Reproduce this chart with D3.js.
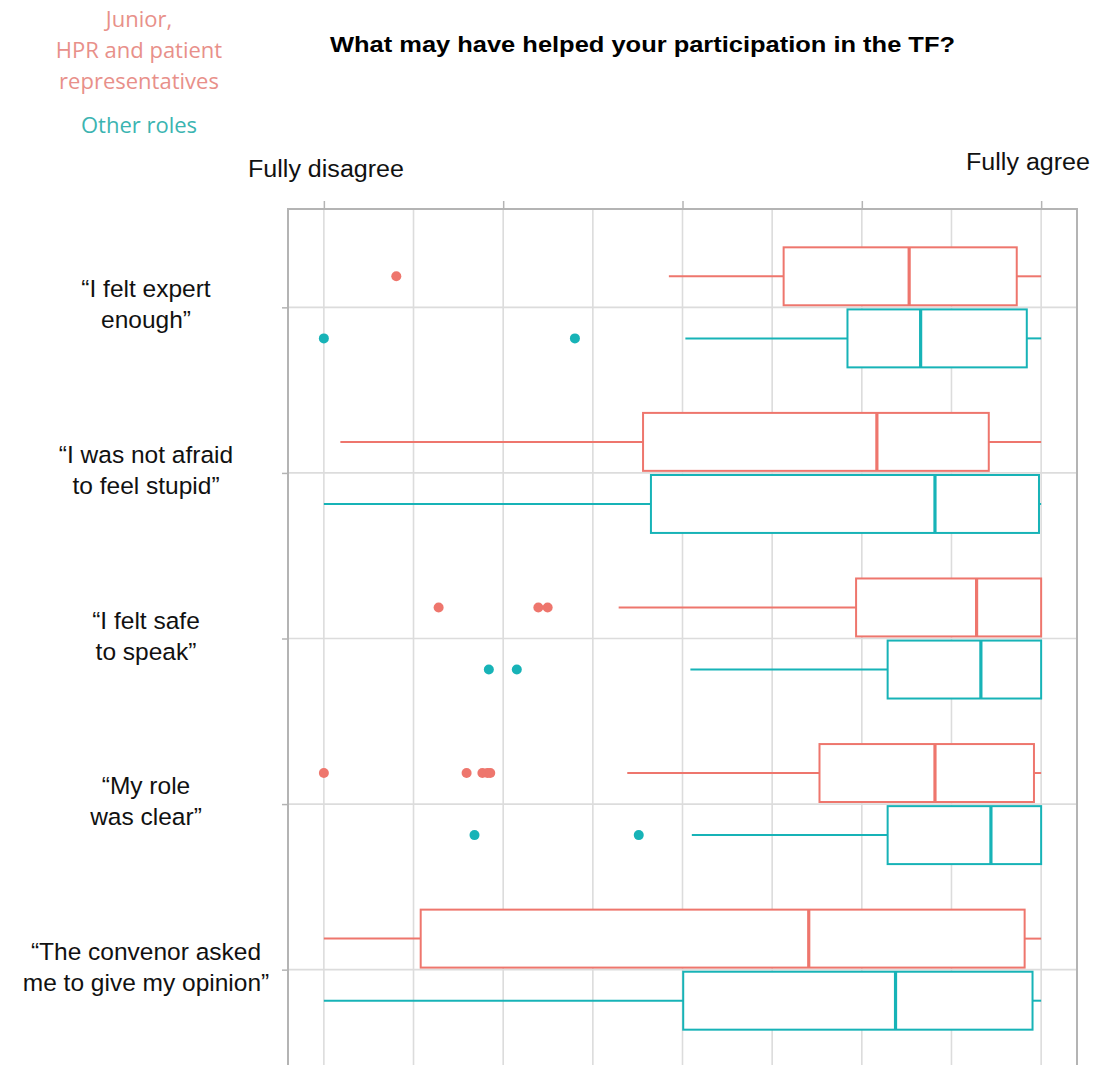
<!DOCTYPE html>
<html lang="en">
<head>
<meta charset="utf-8">
<title>TF participation boxplot</title>
<script src="https://d3js.org/d3.v7.min.js"></script>
<style>
  html, body { margin: 0; padding: 0; background: #fff; }
  svg { display: block; }
</style>
</head>
<body>
<script>
// categories, top to bottom
var categories = [
  "\u201CI felt expert|enough\u201D",
  "\u201CI was not afraid|to feel stupid\u201D",
  "\u201CI felt safe|to speak\u201D",
  "\u201CMy role|was clear\u201D",
  "\u201CThe convenor asked|me to give my opinion\u201D"
];

// five number summaries, 0 = fully disagree, 100 = fully agree
var juniorLow    = [48.1, 2.3, 41.1, 42.3, 0];
var juniorQ1     = [64.1, 44.5, 74.2, 69.1, 13.5];
var juniorMedian = [81.6, 77.1, 91.0, 85.2, 67.6];
var juniorQ3     = [96.6, 92.7, 100, 99.0, 97.7];
var juniorHigh   = [100, 100, 100, 100, 100];
var juniorOutliers = [[10.1], [], [16.0, 29.9, 31.2], [0, 19.9, 22.1, 22.8, 23.2], []];

var otherLow    = [50.4, 0, 51.1, 51.3, 0];
var otherQ1     = [73.0, 45.6, 78.6, 78.6, 50.1];
var otherMedian = [83.2, 85.2, 91.6, 93.0, 79.7];
var otherQ3     = [98.0, 99.7, 100, 100, 98.8];
var otherHigh   = [100, 100, 100, 100, 100];
var otherOutliers = [[0, 35.0], [], [23.0, 26.9], [21.0, 43.9], []];

var groupNames = ["Junior,|HPR and patient|representatives", "Other roles"];
var majorTicks = [0, 25, 50, 75, 100];
var gridTicks = [0, 12.5, 25, 37.5, 50, 62.5, 75, 87.5, 100];

var red = "#EE766D", teal = "#17B3B7";

(function(){
var W = 1094, H = 1065;
var svg = d3.select("body").append("svg")
    .attr("width", W)
    .attr("height", H);

var pLeft = 288, pRight = 1077, pTop = 209, pBottom = 1069;

var x = d3.scaleLinear().domain([-5, 105]).range([pLeft, pRight]);
var y = d3.scalePoint().domain(categories).range([208, 1069]).padding(0.6);
var step = y.step();
var boxH = step * 0.35, dodge = step * 0.1875;

// gridlines
svg.append("g").selectAll("line")
    .data(gridTicks).enter().append("line")
    .attr("x1", function(d){ return x(d); })
    .attr("x2", function(d){ return x(d); })
    .attr("y1", pTop).attr("y2", pBottom)
    .attr("stroke", "#dcdcdc").attr("stroke-width", 1.6);

svg.append("g").selectAll("line")
    .data(categories).enter().append("line")
    .attr("x1", pLeft).attr("x2", pRight)
    .attr("y1", function(d){ return y(d); })
    .attr("y2", function(d){ return y(d); })
    .attr("stroke", "#dcdcdc").attr("stroke-width", 1.6);

// frame
svg.append("rect")
    .attr("x", pLeft).attr("y", pTop)
    .attr("width", pRight - pLeft).attr("height", pBottom - pTop)
    .attr("fill", "none").attr("stroke", "#b4b4b4").attr("stroke-width", 2);

// small ticks
var topAxis = d3.axisTop(x).tickValues(majorTicks).tickFormat("").tickSize(8).tickSizeOuter(0);
svg.append("g").attr("transform", "translate(0," + pTop + ")").call(topAxis)
   .call(function(g){ g.select(".domain").remove(); g.selectAll("line").attr("stroke", "#b4b4b4").attr("stroke-width", 1.5); });

var leftAxis = d3.axisLeft(y).tickFormat("").tickSize(6).tickSizeOuter(0);
svg.append("g").attr("transform", "translate(" + pLeft + ",0)").call(leftAxis)
   .call(function(g){ g.select(".domain").remove(); g.selectAll("line").attr("stroke", "#b4b4b4").attr("stroke-width", 1.5); });

// build box rows
function rows(low, q1, med, q3, high, outl, color, off) {
  return categories.map(function(c, i){
    return {cat: c, low: low[i], q1: q1[i], med: med[i], q3: q3[i], high: high[i],
            out: outl[i], color: color, cy: y(c) + off};
  });
}
var boxes = rows(juniorLow, juniorQ1, juniorMedian, juniorQ3, juniorHigh, juniorOutliers, red, -dodge)
  .concat(rows(otherLow, otherQ1, otherMedian, otherQ3, otherHigh, otherOutliers, teal, dodge));

var bx = svg.append("g").selectAll("g").data(boxes).enter().append("g");

bx.append("line")
    .attr("x1", function(d){ return x(d.low); })
    .attr("x2", function(d){ return x(d.q1); })
    .attr("y1", function(d){ return d.cy; }).attr("y2", function(d){ return d.cy; })
    .attr("stroke", function(d){ return d.color; }).attr("stroke-width", 2);

bx.append("line")
    .attr("x1", function(d){ return x(d.q3); })
    .attr("x2", function(d){ return x(d.high); })
    .attr("y1", function(d){ return d.cy; }).attr("y2", function(d){ return d.cy; })
    .attr("stroke", function(d){ return d.color; }).attr("stroke-width", 2);

bx.append("rect")
    .attr("x", function(d){ return x(d.q1); })
    .attr("width", function(d){ return x(d.q3) - x(d.q1); })
    .attr("y", function(d){ return d.cy - boxH / 2; })
    .attr("height", boxH)
    .attr("fill", "#fff")
    .attr("stroke", function(d){ return d.color; }).attr("stroke-width", 2);

bx.append("line")
    .attr("x1", function(d){ return x(d.med); })
    .attr("x2", function(d){ return x(d.med); })
    .attr("y1", function(d){ return d.cy - boxH / 2; })
    .attr("y2", function(d){ return d.cy + boxH / 2; })
    .attr("stroke", function(d){ return d.color; }).attr("stroke-width", 3.2);

bx.selectAll("circle")
    .data(function(d){ return d.out.map(function(v){ return {v: v, cy: d.cy, color: d.color}; }); })
    .enter().append("circle")
    .attr("cx", function(d){ return x(d.v); })
    .attr("cy", function(d){ return d.cy; })
    .attr("r", 5)
    .attr("fill", function(d){ return d.color; });

// category labels
var labels = svg.append("g").selectAll("text").data(categories).enter().append("text")
    .attr("x", 146)
    .attr("y", function(d){ return y(d) - 10; })
    .attr("text-anchor", "middle")
    .attr("font-family", "Liberation Sans, Arial, sans-serif")
    .attr("font-size", 24.5)
    .attr("fill", "#111");
labels.selectAll("tspan")
    .data(function(d){ return d.split("|"); })
    .enter().append("tspan")
    .attr("x", 146)
    .attr("dy", function(d, i){ return i === 0 ? 0 : 31; })
    .text(function(d){ return d; });

// title and end labels
svg.append("text")
    .attr("x", 330).attr("y", 52)
    .attr("font-family", "Liberation Sans, Arial, sans-serif")
    .attr("font-weight", "bold").attr("font-size", 22)
    .attr("textLength", 625).attr("lengthAdjust", "spacingAndGlyphs")
    .attr("fill", "#000")
    .text("What may have helped your participation in the TF?");

svg.append("text")
    .attr("x", 248).attr("y", 177)
    .attr("font-family", "Liberation Sans, Arial, sans-serif")
    .attr("font-size", 23)
    .attr("textLength", 156).attr("lengthAdjust", "spacingAndGlyphs")
    .attr("fill", "#111")
    .text("Fully disagree");

svg.append("text")
    .attr("x", 966).attr("y", 170)
    .attr("font-family", "Liberation Sans, Arial, sans-serif")
    .attr("font-size", 23)
    .attr("textLength", 124).attr("lengthAdjust", "spacingAndGlyphs")
    .attr("fill", "#111")
    .text("Fully agree");

// legend text
var legColors = ["#E8908A", "#3BB4B1"];
var legY = [27, 133];
groupNames.forEach(function(name, gi){
  var t = svg.append("text")
      .attr("x", 139).attr("y", legY[gi])
      .attr("text-anchor", "middle")
      .attr("font-family", "Open Sans, Noto Sans, sans-serif")
      .attr("font-size", 22)
      .attr("fill", legColors[gi]);
  name.split("|").forEach(function(line, i){
    t.append("tspan").attr("x", 139).attr("dy", i === 0 ? 0 : 31).text(line);
  });
});
})();
</script>
</body>
</html>
